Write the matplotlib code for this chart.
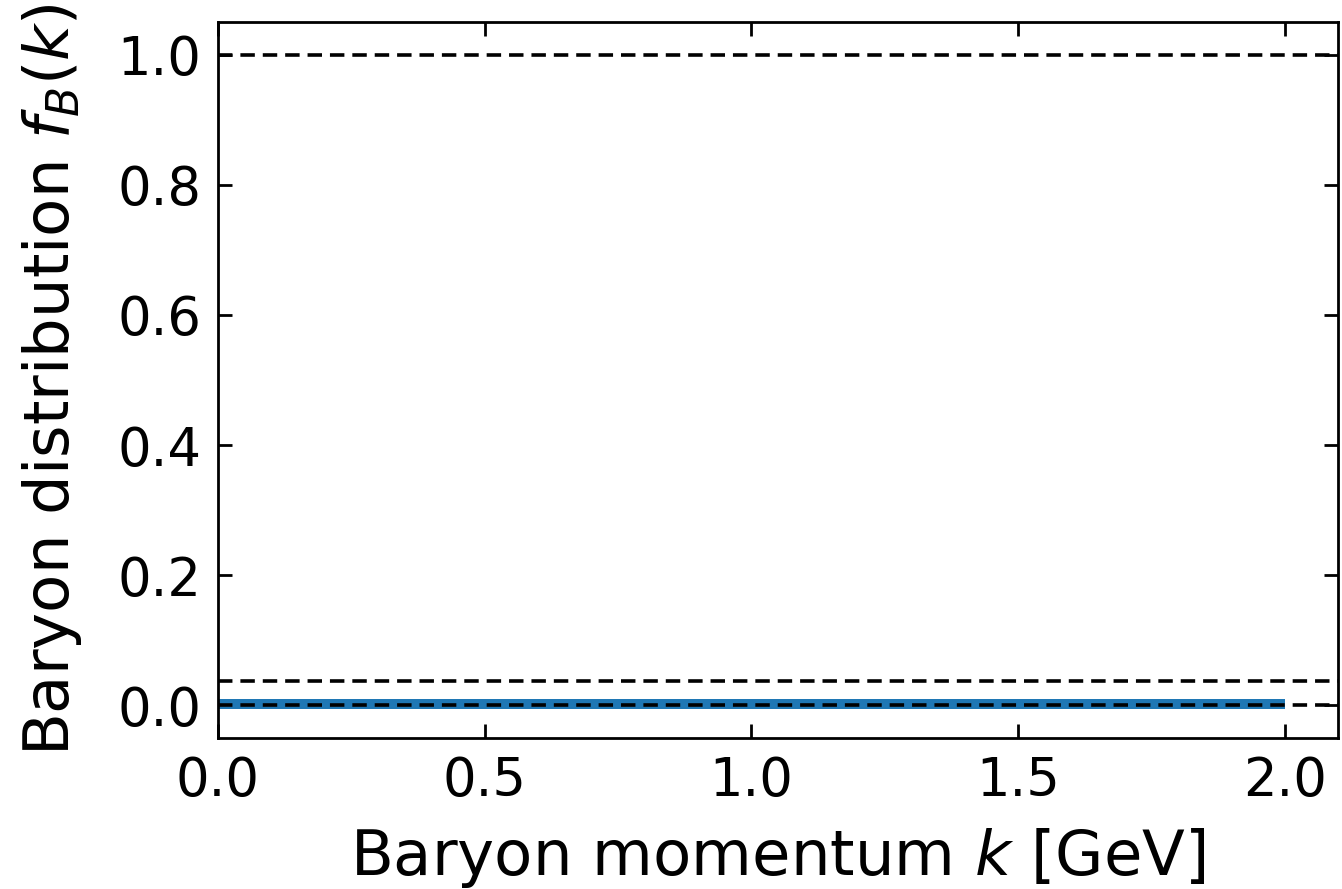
import matplotlib
matplotlib.use("Agg")
import matplotlib.pyplot as plt

# baryon distribution (flat, near zero)
k_vals = [0.0, 0.5, 1.0, 1.5, 2.0]
fB_vals = [0.003, 0.003, 0.003, 0.003, 0.003]

# reference levels (dashed)
ref_levels = [1.0, 0.037, 0.0]

fig = plt.figure(figsize=(6.71, 4.445), dpi=200)
ax = fig.add_axes([0.1624, 0.1698, 0.8346, 0.8055])

ax.plot(k_vals, fB_vals, color="#1f77b4", lw=3.6, solid_capstyle="butt")
for lvl in ref_levels:
    ax.axhline(lvl, color="black", ls="--", lw=1.3, dashes=(4, 2.2))

ax.set_xlim(0, 2.1)
ax.set_ylim(-0.05, 1.05)
ax.set_xticks([0.0, 0.5, 1.0, 1.5, 2.0])
ax.set_yticks([0.0, 0.2, 0.4, 0.6, 0.8, 1.0])
ax.tick_params(direction="in", top=True, right=True, labelsize=19, length=5, width=1, pad=6)
for s in ax.spines.values():
    s.set_linewidth(1)

ax.set_xlabel("Baryon momentum $k$ [GeV]", fontsize=22.5, labelpad=7)
ax.set_ylabel("Baryon distribution $f_B(k)$", fontsize=22.5, labelpad=12)

fig.savefig("out.png", dpi=200)
